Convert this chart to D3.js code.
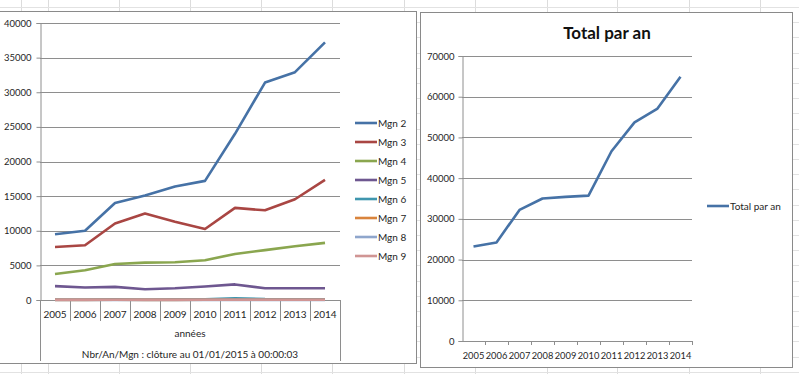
<!DOCTYPE html>
<html>
<head>
<meta charset="utf-8">
<script src="https://cdn.jsdelivr.net/npm/d3@7"></script>
<style>
    body { margin: 0; background: #fff; }
    svg { display: block; font-family: Lato, "Open Sans", sans-serif; }
</style>
</head>
<body>
<div id="chart"></div>
<script>
(function () {
    'use strict';

    // chart values
    var years = ['2005', '2006', '2007', '2008', '2009', '2010', '2011', '2012', '2013', '2014'];
    var seriesNames = ['Mgn 2', 'Mgn 3', 'Mgn 4', 'Mgn 5', 'Mgn 6', 'Mgn 7', 'Mgn 8', 'Mgn 9'];
    var mgn2 = [9500, 10000, 14000, 15100, 16400, 17200, 24000, 31400, 32900, 37200];
    var mgn3 = [7650, 7900, 11050, 12500, 11300, 10250, 13300, 12950, 14550, 17350];
    var mgn4 = [3750, 4300, 5200, 5400, 5450, 5750, 6650, 7200, 7750, 8250];
    var mgn5 = [2000, 1800, 1900, 1550, 1700, 1950, 2250, 1700, 1700, 1700];
    var mgn6 = [60, 70, 90, 80, 90, 110, 250, 130, 110, 100];
    var mgn7 = [20, 20, 30, 20, 20, 30, 40, 30, 30, 30];
    var mgn8 = [10, 10, 10, 10, 10, 10, 10, 10, 10, 10];
    var mgn9 = [40, 40, 40, 40, 40, 40, 40, 40, 40, 40];
    var totals = [23200, 24200, 32200, 35000, 35400, 35700, 46600, 53700, 57100, 64900];
    var leftTicks = [0, 5000, 10000, 15000, 20000, 25000, 30000, 35000, 40000];
    var rightTicks = [0, 10000, 20000, 30000, 40000, 50000, 60000, 70000];

    var allSeries = [mgn2, mgn3, mgn4, mgn5, mgn6, mgn7, mgn8, mgn9];
    var colors = ['#4672a6', '#a94643', '#8aa64f', '#6e5790', '#3f96ae', '#d9843c', '#8fa6cc', '#d09594'];

    var W = 799, H = 374;
    var gridCol = '#8e8e8e';
    var textCol = '#262626';

    var svg = d3.select('#chart').append('svg')
        .attr('width', W)
        .attr('height', H);

    // spreadsheet cells behind the charts
    var sheetCols = [21, 48, 119, 190, 261, 332, 404, 475, 547, 617, 689, 760];
    var sheet = svg.append('g').attr('class', 'sheet');
    sheet.selectAll('line.c').data(sheetCols).enter().append('line')
        .attr('x1', function (d) { return d + 0.5; })
        .attr('x2', function (d) { return d + 0.5; })
        .attr('y1', 0).attr('y2', H)
        .attr('stroke', '#dcdcdc');
    sheet.selectAll('line.r').data(d3.range(7, H, 15.2)).enter().append('line')
        .attr('x1', 0).attr('x2', W)
        .attr('y1', function (d) { return Math.round(d) + 0.5; })
        .attr('y2', function (d) { return Math.round(d) + 0.5; })
        .attr('stroke', '#e2e2e2');

    // chart boxes
    function box(x0, y0, x1, y1) {
        svg.append('rect')
            .attr('x', x0 + 0.5).attr('y', y0 + 0.5)
            .attr('width', x1 - x0).attr('height', y1 - y0)
            .attr('fill', '#fff')
            .attr('stroke', '#8a8a8a');
    }
    box(-2, 11, 416, 363);
    box(420, 12, 792, 367);

    /* ---------- left chart: every Mgn ---------- */
    var L = { left: 40, right: 340, top: 23, bottom: 300 };
    var xL = d3.scaleBand().domain(years).range([L.left, L.right]);
    var yL = d3.scaleLinear().domain([0, 40000]).range([L.bottom, L.top]);
    var gL = svg.append('g').attr('class', 'left');

    gL.selectAll('line.grid').data(leftTicks.slice(1)).enter().append('line')
        .attr('x1', L.left).attr('x2', L.right)
        .attr('y1', function (d) { return Math.round(yL(d)) + 0.5; })
        .attr('y2', function (d) { return Math.round(yL(d)) + 0.5; })
        .attr('stroke', gridCol);

    var axL = gL.append('g')
        .attr('transform', 'translate(' + (L.left + 0.5) + ',0)')
        .call(d3.axisLeft(yL).tickValues(leftTicks).tickSize(4).tickPadding(5).tickFormat(d3.format('d')));
    axL.select('.domain').attr('stroke', gridCol);
    axL.selectAll('line').attr('stroke', gridCol);
    axL.selectAll('text').attr('font-size', 9.5).attr('fill', textCol).attr('font-family', 'Lato, sans-serif');

    // category table under the plot
    gL.append('line')
        .attr('x1', L.left).attr('x2', L.right)
        .attr('y1', L.bottom + 0.5).attr('y2', L.bottom + 0.5)
        .attr('stroke', gridCol);
    gL.selectAll('line.sep').data(years.slice(1)).enter().append('line')
        .attr('x1', function (d) { return Math.round(xL(d)) + 0.5; })
        .attr('x2', function (d) { return Math.round(xL(d)) + 0.5; })
        .attr('y1', L.bottom).attr('y2', L.bottom + 21)
        .attr('stroke', gridCol);
    [L.left, L.right].forEach(function (x) {
        gL.append('line')
            .attr('x1', x + 0.5).attr('x2', x + 0.5)
            .attr('y1', L.bottom).attr('y2', 361)
            .attr('stroke', gridCol);
    });
    gL.selectAll('text.yr').data(years).enter().append('text')
        .attr('x', function (d) { return xL(d) + xL.bandwidth() / 2; })
        .attr('y', L.bottom + 18)
        .attr('text-anchor', 'middle')
        .attr('font-size', 10)
        .attr('fill', textCol)
        .text(function (d) { return d; });
    gL.append('text')
        .attr('x', (L.left + L.right) / 2).attr('y', 337)
        .attr('text-anchor', 'middle').attr('font-size', 10).attr('fill', textCol)
        .text('années');
    gL.append('text')
        .attr('x', (L.left + L.right) / 2).attr('y', 358)
        .attr('text-anchor', 'middle').attr('font-size', 10).attr('fill', textCol)
        .text('Nbr/An/Mgn : clôture au 01/01/2015 à 00:00:03');

    var lineL = d3.line()
        .x(function (d, i) { return xL(years[i]) + xL.bandwidth() / 2; })
        .y(function (d) { return yL(d); });

    gL.selectAll('path.serie').data(allSeries).enter().append('path')
        .attr('fill', 'none')
        .attr('stroke', function (d, i) { return colors[i]; })
        .attr('stroke-width', 2.6)
        .attr('stroke-linejoin', 'round')
        .attr('d', lineL);

    // legend
    var legL = gL.selectAll('g.leg').data(seriesNames).enter().append('g')
        .attr('transform', function (d, i) { return 'translate(355,' + (123 + i * 19) + ')'; });
    legL.append('line')
        .attr('x1', 0).attr('x2', 22)
        .attr('stroke', function (d, i) { return colors[i]; })
        .attr('stroke-width', 2.6);
    legL.append('text')
        .attr('x', 23).attr('dy', '0.35em')
        .attr('font-size', 10).attr('fill', textCol)
        .text(function (d) { return d; });

    /* ---------- right chart: yearly total ---------- */
    var R = { left: 462, right: 692, top: 56, bottom: 341 };
    var xR = d3.scaleBand().domain(years).range([R.left, R.right]);
    var yR = d3.scaleLinear().domain([0, 70000]).range([R.bottom, R.top]);
    var gR = svg.append('g').attr('class', 'right');

    gR.append('text')
        .attr('x', 607).attr('y', 39)
        .attr('text-anchor', 'middle')
        .attr('font-size', 17).attr('font-weight', 'bold').attr('fill', '#111')
        .text('Total par an');

    gR.selectAll('line.grid').data(rightTicks.slice(1)).enter().append('line')
        .attr('x1', R.left).attr('x2', R.right)
        .attr('y1', function (d) { return Math.round(yR(d)) + 0.5; })
        .attr('y2', function (d) { return Math.round(yR(d)) + 0.5; })
        .attr('stroke', gridCol);

    var axR = gR.append('g')
        .attr('transform', 'translate(' + (R.left + 0.5) + ',0)')
        .call(d3.axisLeft(yR).tickValues(rightTicks).tickSize(4).tickPadding(4).tickFormat(d3.format('d')));
    axR.select('.domain').attr('stroke', gridCol);
    axR.selectAll('line').attr('stroke', gridCol);
    axR.selectAll('text').attr('font-size', 9.5).attr('fill', textCol).attr('font-family', 'Lato, sans-serif');

    gR.append('line')
        .attr('x1', R.left).attr('x2', R.right)
        .attr('y1', R.bottom + 0.5).attr('y2', R.bottom + 0.5)
        .attr('stroke', gridCol);
    gR.selectAll('line.tk').data(years).enter().append('line')
        .attr('x1', function (d) { return Math.round(xR(d) + xR.bandwidth()) + 0.5; })
        .attr('x2', function (d) { return Math.round(xR(d) + xR.bandwidth()) + 0.5; })
        .attr('y1', R.bottom).attr('y2', R.bottom + 4)
        .attr('stroke', gridCol);
    gR.selectAll('text.yr').data(years).enter().append('text')
        .attr('x', function (d) { return xR(d) + xR.bandwidth() / 2; })
        .attr('y', R.bottom + 18)
        .attr('text-anchor', 'middle')
        .attr('font-size', 9.3).attr('fill', textCol)
        .text(function (d) { return d; });

    var lineR = d3.line()
        .x(function (d, i) { return xR(years[i]) + xR.bandwidth() / 2; })
        .y(function (d) { return yR(d); });

    gR.append('path')
        .datum(totals)
        .attr('fill', 'none')
        .attr('stroke', colors[0])
        .attr('stroke-width', 2.6)
        .attr('stroke-linejoin', 'round')
        .attr('d', lineR);

    var legR = gR.append('g').attr('transform', 'translate(707,206)');
    legR.append('line')
        .attr('x1', 0).attr('x2', 22)
        .attr('stroke', colors[0]).attr('stroke-width', 2.6);
    legR.append('text')
        .attr('x', 23).attr('dy', '0.35em')
        .attr('font-size', 10).attr('fill', textCol)
        .text('Total par an');
})();
</script>
</body>
</html>
